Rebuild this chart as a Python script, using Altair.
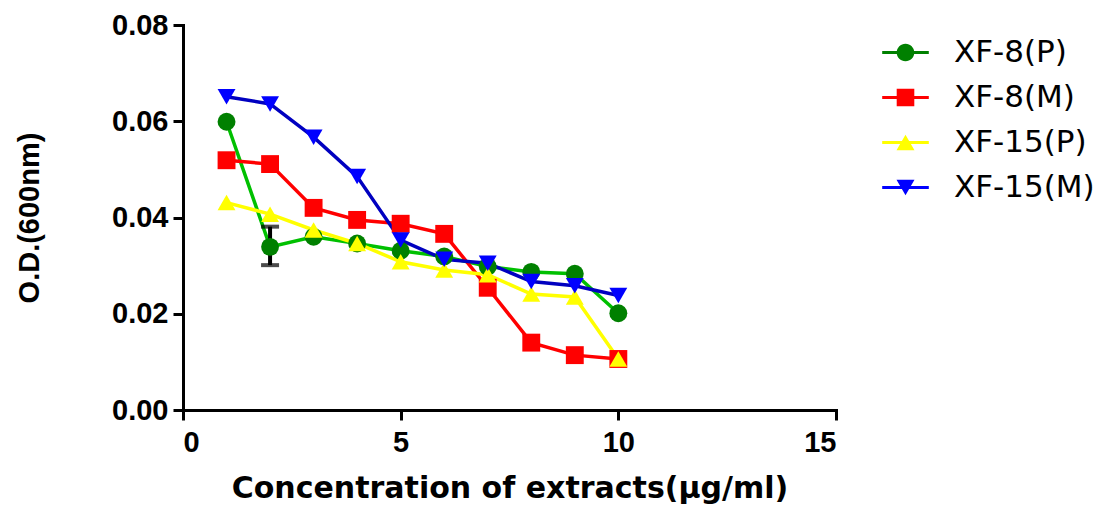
import altair as alt
import pandas as pd

# ---- data ----
conc = [1, 2, 3, 4, 5, 6, 7, 8, 9, 10]
xf8_p = [0.0599, 0.0339, 0.0360, 0.0346, 0.0331, 0.0319, 0.0298, 0.0287, 0.0283, 0.0201]
xf8_m = [0.0519, 0.0511, 0.0420, 0.0395, 0.0387, 0.0366, 0.0254, 0.0140, 0.0114, 0.0106]
xf15_p = [0.0431, 0.0407, 0.0374, 0.0346, 0.0308, 0.0291, 0.0281, 0.0241, 0.0235, 0.0106]
xf15_m = [0.0651, 0.0636, 0.0567, 0.0485, 0.0353, 0.0313, 0.0305, 0.0267, 0.0258, 0.0238]

series_names = ["XF-8(P)", "XF-8(M)", "XF-15(P)", "XF-15(M)"]
line_colors = ["#00C000", "#FF0000", "#FFFF00", "#0000C0"]
marker_colors = ["#008000", "#FF0000", "#FFFF00", "#0000FF"]
marker_shapes = ["circle", "square", "triangle-up", "triangle-down"]

# legend glyphs: a short line with the marker on it (unit = 10 px at size 400)
_bar = "M-2.33,-0.16H2.33V0.16H-2.33Z"
legend_shapes = [
    _bar + "M-0.88,0A0.88,0.88 0 1,1 0.88,0A0.88,0.88 0 1,1 -0.88,0Z",
    _bar + "M-0.88,-0.88H0.88V0.88H-0.88Z",
    _bar + "M0,-0.78L0.9,0.78H-0.9Z",
    _bar + "M0,0.78L-0.9,-0.78H0.9Z",
]

err_x = [2]
err_low = [0.0301]
err_high = [0.0381]

x_ticks = [0, 5, 10, 15]
y_ticks = [0.00, 0.02, 0.04, 0.06, 0.08]

# ---- tables ----
rows = []
for name, vals in zip(series_names, [xf8_p, xf8_m, xf15_p, xf15_m]):
    for c, v in zip(conc, vals):
        rows.append({"conc": c, "od": v, "series": name})
df = pd.DataFrame(rows)
err_df = pd.DataFrame({"conc": err_x, "lo": err_low, "hi": err_high})

W, H = 653, 385

x_enc = alt.X(
    "conc:Q",
    scale=alt.Scale(domain=[0, 15], nice=False),
    axis=alt.Axis(
        values=x_ticks, title="Concentration of extracts(μg/ml)",
        titleFont="DejaVu Sans", titleFontSize=30, titleFontWeight="bold",
        titleX=W / 2, titleY=87, titleBaseline="alphabetic", titleAlign="center",
        labelPadding=8,
    ),
)
y_enc = alt.Y(
    "od:Q",
    scale=alt.Scale(domain=[0, 0.08], nice=False),
    axis=alt.Axis(
        values=y_ticks, format=".2f", title="O.D.(600nm)",
        titleFont="Liberation Sans", titleFontSize=29, titleFontWeight="bold",
        titleX=-154, titleY=H / 2, titleAngle=270, titleBaseline="middle", titleAlign="center",
        labelPadding=5,
    ),
)

lines = alt.Chart(df).mark_line(strokeWidth=3.5).encode(
    x=x_enc, y=y_enc,
    color=alt.Color(
        "series:N", sort=series_names, legend=None,
        scale=alt.Scale(domain=series_names, range=line_colors),
    ),
)

points = alt.Chart(df).mark_point(filled=True, size=320, opacity=1).encode(
    x=x_enc, y=y_enc,
    fill=alt.Fill(
        "series:N", sort=series_names, legend=None,
        scale=alt.Scale(domain=series_names, range=marker_colors),
    ),
    shape=alt.Shape(
        "series:N", sort=series_names, legend=None,
        scale=alt.Scale(domain=series_names, range=marker_shapes),
    ),
)

legend_def = alt.Legend(
    orient="none", legendX=707, legendY=12, padding=0,
    labelFont="DejaVu Sans", labelFontSize=31, labelColor="black",
    labelOffset=33, rowPadding=13, symbolSize=400, symbolStrokeWidth=0,
    symbolOpacity=1,
)

legend_layer = alt.Chart(df).mark_point(filled=True, size=0, opacity=1).encode(
    x=x_enc, y=y_enc,
    color=alt.Color(
        "series:N", sort=series_names, title=None,
        scale=alt.Scale(domain=series_names, range=marker_colors),
        legend=legend_def,
    ),
    shape=alt.Shape(
        "series:N", sort=series_names, title=None,
        scale=alt.Scale(domain=series_names, range=legend_shapes),
        legend=legend_def,
    ),
)

err_rule = alt.Chart(err_df).mark_rule(color="black", strokeWidth=4).encode(
    x="conc:Q", y="lo:Q", y2="hi:Q"
)
err_lo = alt.Chart(err_df).mark_tick(color="black", thickness=4, size=18, orient="horizontal").encode(
    x="conc:Q", y="lo:Q"
)
err_hi = alt.Chart(err_df).mark_tick(color="black", thickness=4, size=18, orient="horizontal").encode(
    x="conc:Q", y="hi:Q"
)

chart = (
    alt.layer(lines, err_rule, err_lo, err_hi, points, legend_layer)
    .resolve_scale(color="independent", shape="independent", fill="independent")
    .properties(
        width=W, height=H,
        autosize=alt.AutoSizeParams(type="none"),
        padding={"left": 183, "top": 25, "right": 270, "bottom": 95},
        background="white",
    )
    .configure_view(stroke=None)
    .configure_axis(
        grid=False, domainColor="black", domainWidth=3, tickColor="black",
        tickWidth=3, tickSize=10, labelFont="Liberation Sans", labelFontSize=29,
        labelFontWeight="bold", labelColor="black", titleColor="black",
        domainCap="square",
    )
)

chart.save("out.html", embed_options={"renderer": "svg", "actions": False})
